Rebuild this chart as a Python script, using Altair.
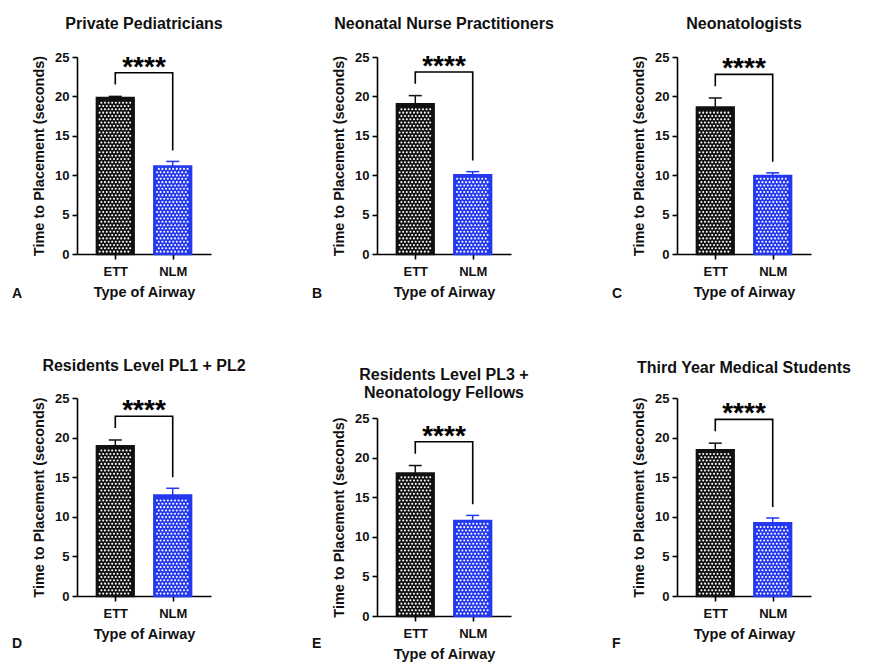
import altair as alt
import pandas as pd

FONT = "Liberation Sans"

panel_letters = ["A", "B", "C", "D", "E", "F"]
panel_titles = [
    ["Private Pediatricians"],
    ["Neonatal Nurse Practitioners"],
    ["Neonatologists"],
    ["Residents Level PL1 + PL2"],
    ["Residents Level PL3 +", "Neonatology Fellows"],
    ["Third Year Medical Students"],
]
airways = ["ETT", "NLM"]
ett_mean = [19.8, 19.0, 18.6, 18.9, 18.0, 18.4]
ett_sem = [0.2, 1.1, 1.2, 0.8, 1.0, 0.9]
nlm_mean = [11.1, 10.0, 9.9, 12.7, 12.0, 9.2]
nlm_sem = [0.65, 0.45, 0.4, 0.9, 0.7, 0.65]
significance = ["****"] * 6
y_ticks = [0, 5, 10, 15, 20, 25]

COLORS = ["#111111", "#2438f0"]
W = 134
POS = {a: 1 + 1.5 * k for k, a in enumerate(airways)}


def panel(i, h_plot, top_pad, title_y, letter_y):
    H = h_plot + top_pad
    yscale = alt.Scale(domain=[0, 25], nice=False, zero=True, range=[H, top_pad])
    xscale = alt.Scale(domain=[0, 3.5], nice=False, zero=False)
    label_expr = f"datum.value == {POS['ETT']} ? '{airways[0]}' : '{airways[1]}'"
    xaxis = alt.Axis(values=list(POS.values()), labelExpr=label_expr,
                     title="Type of Airway", labelPadding=6, titlePadding=7)
    yaxis = alt.Axis(values=y_ticks, title="Time to Placement (seconds)",
                     labelPadding=3, titlePadding=8)

    def X(f):
        return alt.X(f, scale=xscale, axis=xaxis)

    def Y(f):
        return alt.Y(f, scale=yscale, axis=yaxis)

    df = pd.DataFrame({
        "airway": airways,
        "mean": [ett_mean[i], nlm_mean[i]],
        "sem": [ett_sem[i], nlm_sem[i]],
    })
    df["pos"] = df["airway"].map(POS)
    df["top"] = df["mean"] + df["sem"]
    df["x1"] = df["pos"] - 0.48
    df["x2"] = df["pos"] + 0.48
    df["c1"] = df["pos"] - 0.17
    df["c2"] = df["pos"] + 0.17

    color = alt.Color("airway:N", scale=alt.Scale(domain=airways, range=COLORS), legend=None)
    stroke = alt.Stroke("airway:N", scale=alt.Scale(domain=airways, range=COLORS), legend=None)
    base = alt.Chart(df)

    bars = base.mark_bar(strokeWidth=2.5).encode(
        x=X("x1:Q"), x2="x2:Q", y=Y("mean:Q"), y2=alt.datum(0),
        color=color, stroke=stroke,
    )

    dots = (
        base.transform_calculate(rows="sequence(0, 70)")
        .transform_flatten(["rows"], as_=["row"])
        .transform_calculate(cols="sequence(0, 11)")
        .transform_flatten(["cols"], as_=["col"])
        .transform_calculate(
            px="datum.pos - 0.41 + datum.col * 0.094 + (datum.row % 2) * 0.047",
            py="0.3 + datum.row * 0.42",
        )
        .transform_filter("datum.px <= datum.pos + 0.42 && datum.py <= datum.mean - 0.28")
        .mark_circle(size=4.2, color="white", opacity=1)
        .encode(x=X("px:Q"), y=Y("py:Q"))
    )

    err = base.mark_rule(strokeWidth=1.5).encode(
        x=X("pos:Q"), y=Y("mean:Q"), y2="top:Q", color=color,
    )
    caps = base.mark_rule(strokeWidth=1.5).encode(
        x=X("c1:Q"), x2="c2:Q", y=Y("top:Q"), color=color,
    )

    ett_top = ett_mean[i] + ett_sem[i]
    nlm_top = nlm_mean[i] + nlm_sem[i]
    btop = max(ett_top, nlm_top) + 3.0
    bdf = pd.DataFrame({
        "airway": ["ETT", "ETT", "NLM", "NLM"],
        "by": [ett_top + 1.5, btop, btop, nlm_top + 1.4],
        "k": [0, 1, 2, 3],
    })
    bdf["bx"] = bdf["airway"].map(POS)
    bracket = alt.Chart(bdf).mark_line(color="black", strokeWidth=1.6).encode(
        x=X("bx:Q"), y=Y("by:Q"), order="k:Q",
    )

    sdf = pd.DataFrame({"sig": [significance[i]], "sx": [(POS["ETT"] + POS["NLM"]) / 2], "sy": [btop]})
    stars = alt.Chart(sdf).mark_text(
        font=FONT, fontWeight="bold", fontSize=28, baseline="alphabetic", align="center",
        color="black", dy=3,
    ).encode(x=X("sx:Q"), y=Y("sy:Q"), text="sig:N")

    one = pd.DataFrame({"a": [0]})
    ttl = panel_titles[i]
    title = alt.Chart(one).mark_text(
        text=ttl if len(ttl) > 1 else ttl[0],
        font=FONT, fontWeight="bold", fontSize=16, align="center", baseline="middle",
        lineHeight=18, color="#111",
    ).encode(x=alt.value(W / 2), y=alt.value(title_y))

    letter = alt.Chart(one).mark_text(
        text=panel_letters[i],
        font=FONT, fontWeight="bold", fontSize=14, align="left", baseline="middle",
        color="#111",
    ).encode(x=alt.value(-65), y=alt.value(letter_y))

    return alt.layer(bars, dots, err, caps, bracket, stars, title, letter).properties(
        width=W, height=H
    )


H_TOP = 197
H_BOT = 198
panels = [
    panel(0, H_TOP, 0, -33, H_TOP + 40),
    panel(1, H_TOP, 0, -33, H_TOP + 40),
    panel(2, H_TOP, 0, -33, H_TOP + 40),
    panel(3, H_BOT, 0, -32, 246),
    panel(4, H_BOT, 20, -23, 246),
    panel(5, H_BOT, 0, -30, 246),
]

chart = (
    alt.concat(*panels, columns=3, spacing={"row": 144, "column": 166}, bounds="flush")
    .properties(padding={"left": 4, "top": 8, "right": 5, "bottom": 5}, background="white")
    .configure_view(stroke=None)
    .configure_axis(
        grid=False,
        domainColor="black", domainWidth=1.6,
        tickColor="black", tickWidth=1.6, tickSize=5,
        labelFont=FONT, labelFontWeight="bold", labelFontSize=13, labelColor="#111",
        titleFont=FONT, titleFontWeight="bold", titleFontSize=14.5, titleColor="#111",
    )
)

chart.save("out.html", embed_options={"renderer": "svg", "actions": False})
